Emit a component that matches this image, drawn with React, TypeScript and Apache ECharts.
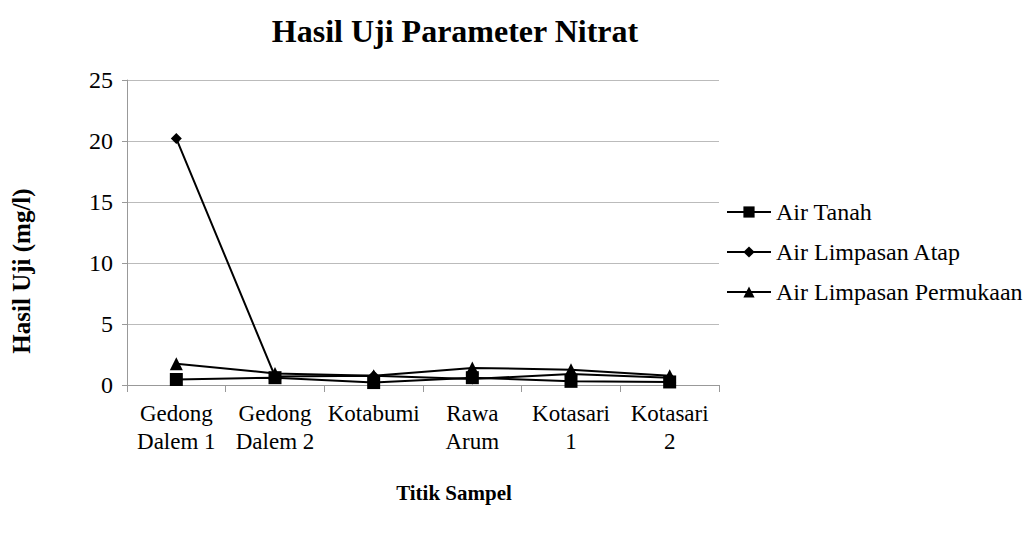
import React, { useEffect, useRef } from "react";
import * as echarts from "echarts";

const categories = ["Gedong\nDalem 1", "Gedong\nDalem 2", "Kotabumi", "Rawa\nArum", "Kotasari\n1", "Kotasari\n2"];
const airTanah = [0.45, 0.6, 0.2, 0.6, 0.3, 0.25];
const airLimpasanAtap = [20.2, 0.7, 0.75, 0.5, 0.9, 0.6];
const airLimpasanPermukaan = [1.75, 0.95, 0.75, 1.4, 1.25, 0.75];
const yTicks = { min: 0, max: 25, interval: 5 };

const FONT = "Liberation Serif";

export default function App() {
  const ref = useRef<HTMLDivElement>(null);
  useEffect(() => {
    const chart = echarts.init(ref.current!, null, { renderer: "svg" });
    const mk = (name: string, data: number[], symbol: string, size: number) => ({
      name,
      type: "line",
      data,
      symbol,
      symbolSize: size,
      lineStyle: { color: "#000", width: 2 },
      itemStyle: { color: "#000" },
    });
    chart.setOption({
      animation: false,
      backgroundColor: "#fff",
      title: {
        text: "Hasil Uji Parameter Nitrat",
        left: 450,
        textAlign: "center",
        top: 10,
        textStyle: { fontFamily: FONT, fontSize: 32, fontWeight: "bold", color: "#000" },
      },
      graphic: [
        {
          type: "text",
          x: 21,
          y: 271,
          rotation: Math.PI / 2,
          style: {
            text: "Hasil Uji (mg/l)",
            fontFamily: FONT,
            fontSize: 25,
            fontWeight: "bold",
            fill: "#000",
            textAlign: "center",
            textVerticalAlign: "middle",
          },
        },
        {
          type: "text",
          x: 454,
          y: 493,
          style: {
            text: "Titik Sampel",
            fontFamily: FONT,
            fontSize: 21,
            fontWeight: "bold",
            fill: "#000",
            textAlign: "center",
            textVerticalAlign: "middle",
          },
        },
      ],
      grid: { left: 127, right: 317, top: 80, bottom: 151 },
      legend: {
        orient: "vertical",
        left: 726,
        top: 200,
        padding: 0,
        itemGap: 16,
        itemWidth: 44,
        itemHeight: 14,
        textStyle: { fontFamily: FONT, fontSize: 24, color: "#000", padding: [0, 0, 0, 0] },
        data: ["Air Tanah", "Air Limpasan Atap", "Air Limpasan Permukaan"],
      },
      xAxis: {
        type: "category",
        data: categories,
        boundaryGap: true,
        axisLine: { lineStyle: { color: "#999" } },
        axisTick: { show: true, alignWithLabel: false, length: 7, lineStyle: { color: "#999" } },
        axisLabel: { fontFamily: FONT, fontSize: 23, color: "#000", lineHeight: 28, margin: 14, interval: 0 },
      },
      yAxis: {
        type: "value",
        min: yTicks.min,
        max: yTicks.max,
        interval: yTicks.interval,
        axisLine: { show: true, lineStyle: { color: "#999" } },
        axisTick: { show: true, length: 5, lineStyle: { color: "#999" } },
        axisLabel: { fontFamily: FONT, fontSize: 24, color: "#000", margin: 14 },
        splitLine: { lineStyle: { color: "#bbb" } },
      },
      series: [
        mk("Air Tanah", airTanah, "rect", 13),
        mk("Air Limpasan Atap", airLimpasanAtap, "diamond", 11),
        mk("Air Limpasan Permukaan", airLimpasanPermukaan, "triangle", 13),
      ],
    });
    return () => chart.dispose();
  }, []);
  return <div ref={ref} style={{ width: 1036, height: 536, position: "absolute", left: 0, top: 0 }} />;
}
